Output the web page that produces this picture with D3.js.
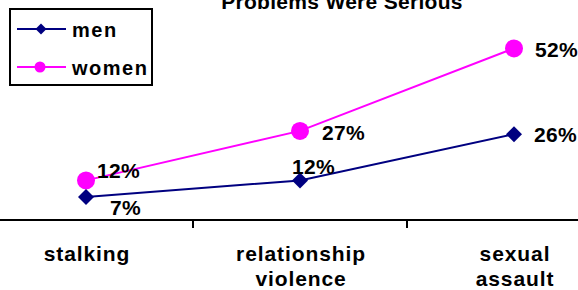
<!DOCTYPE html>
<html>
<head>
<meta charset="utf-8">
<script src="https://cdn.jsdelivr.net/npm/d3@7"></script>
<style>
  body { margin: 0; background: #fff; }
  text { font-family: "Liberation Sans", Arial, sans-serif; font-weight: bold; fill: #000; }
</style>
</head>
<body>
<div id="chart"></div>
<script>
var categories = [["stalking"], ["relationship", "violence"], ["sexual", "assault"]];
var men_values = [7, 12, 26];
var women_values = [12, 27, 52];
var series_names = ["men", "women"];

// label nudges relative to each point (dx, dy)
var men_label_offsets = [[24, 18], [-8, -6], [20, 8]];
var women_label_offsets = [[11, -2], [22, 9], [21, 9]];

var width = 578, height = 290;
var axis_y = 220;

var svg = d3.select("#chart").append("svg")
    .attr("width", width)
    .attr("height", height);

var x_scale = d3.scaleBand()
    .domain(d3.range(categories.length))
    .range([-21, 621])
    .padding(0);

var y_scale = d3.scaleLinear()
    .domain([0, 60])
    .range([axis_y, 22]);

var cx = function(i) { return x_scale(i) + x_scale.bandwidth() / 2; };

// title (cut off at the top)
svg.append("text")
    .attr("x", 342)
    .attr("y", 9)
    .attr("text-anchor", "middle")
    .style("font-size", "21px")
    .style("letter-spacing", "0.3px")
    .text("Problems Were Serious");

// category axis
svg.append("line")
    .attr("x1", 0).attr("x2", width)
    .attr("y1", axis_y).attr("y2", axis_y)
    .attr("stroke", "#000").attr("stroke-width", 2);

for (var i = 1; i < categories.length; i++) {
  svg.append("line")
      .attr("x1", x_scale(i)).attr("x2", x_scale(i))
      .attr("y1", axis_y).attr("y2", axis_y + 8)
      .attr("stroke", "#000").attr("stroke-width", 2);
}

categories.forEach(function(lines, i) {
  var t = svg.append("text")
      .attr("x", cx(i))
      .attr("y", 261)
      .attr("text-anchor", "middle")
      .style("font-size", "21px")
      .style("letter-spacing", "0.9px");
  lines.forEach(function(line, j) {
    t.append("tspan")
        .attr("x", cx(i) + 1)
        .attr("dy", j === 0 ? 0 : 25)
        .text(line);
  });
});

var line_gen = d3.line()
    .x(function(d, i) { return cx(i); })
    .y(function(d) { return y_scale(d); });

var diamond = function(size) {
  return "M0," + (-size) + "L" + size + ",0L0," + size + "L" + (-size) + ",0Z";
};

// women series
svg.append("path")
    .datum(women_values)
    .attr("d", line_gen)
    .attr("fill", "none")
    .attr("stroke", "#ff00ff")
    .attr("stroke-width", 2);

svg.selectAll(".women-dot")
    .data(women_values)
  .enter().append("circle")
    .attr("class", "women-dot")
    .attr("cx", function(d, i) { return cx(i); })
    .attr("cy", function(d) { return y_scale(d); })
    .attr("r", 9)
    .attr("fill", "#ff00ff");

// men series
svg.append("path")
    .datum(men_values)
    .attr("d", line_gen)
    .attr("fill", "none")
    .attr("stroke", "#000080")
    .attr("stroke-width", 2);

svg.selectAll(".men-dot")
    .data(men_values)
  .enter().append("path")
    .attr("class", "men-dot")
    .attr("d", diamond(8))
    .attr("transform", function(d, i) {
      return "translate(" + cx(i) + "," + y_scale(d) + ")";
    })
    .attr("fill", "#000080");

// value labels
var add_labels = function(values, offsets) {
  values.forEach(function(v, i) {
    svg.append("text")
        .attr("x", cx(i) + offsets[i][0])
        .attr("y", y_scale(v) + offsets[i][1])
        .style("font-size", "21px")
        .style("letter-spacing", "0.3px")
        .text(v + "%");
  });
};
add_labels(women_values, women_label_offsets);
add_labels(men_values, men_label_offsets);

// legend
var legend = svg.append("g");
legend.append("rect")
    .attr("x", 10).attr("y", 9)
    .attr("width", 142).attr("height", 76)
    .attr("fill", "#fff")
    .attr("stroke", "#000").attr("stroke-width", 2);

var legend_colors = ["#000080", "#ff00ff"];
series_names.forEach(function(name, i) {
  var ly = 29 + i * 38;
  legend.append("line")
      .attr("x1", 17).attr("x2", 66)
      .attr("y1", ly).attr("y2", ly)
      .attr("stroke", legend_colors[i]).attr("stroke-width", 2);
  if (i === 0) {
    legend.append("path")
        .attr("d", diamond(5.5))
        .attr("transform", "translate(41," + ly + ")")
        .attr("fill", legend_colors[i]);
  } else {
    legend.append("circle")
        .attr("cx", 40).attr("cy", ly)
        .attr("r", 5.5)
        .attr("fill", legend_colors[i]);
  }
  legend.append("text")
      .attr("x", 72)
      .attr("y", ly + 8)
      .style("font-size", "20px")
      .style("letter-spacing", "1.5px")
      .text(name);
});
</script>
</body>
</html>
